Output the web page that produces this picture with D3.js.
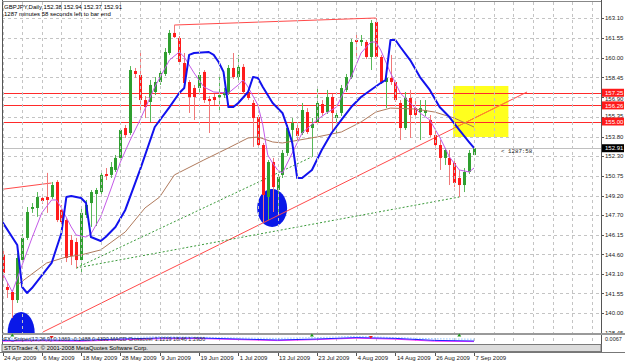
<!DOCTYPE html>
<html>
<head>
<meta charset="utf-8">
<script src="https://cdn.jsdelivr.net/npm/d3@7"></script>
<style>
  body { margin: 0; background: #fff; }
  svg { display: block; font-family: "Liberation Sans", Arial, sans-serif; }
</style>
</head>
<body>
<div id="chart"></div>
<script>
// GBPJPY daily candles, 24 Apr 2009 .. 7 Sep 2009 (bar index 0..96)
const opens  = [144.56,142.05,141.66,141.03,144.16,145.89,148.16,148.23,149.01,149.09,149.09,150.27,148.08,147.29,145.73,145.57,144.16,147.68,148.62,149.33,149.48,150.89,150.82,151.21,152.15,154.49,154.10,158.95,158.64,156.68,156.53,157.31,158.09,158.72,160.36,161.93,161.53,159.58,158.09,157.62,157.62,158.88,156.76,156.92,156.92,157.07,157.23,159.19,158.48,159.27,157.31,156.45,155.35,153.16,149.09,151.83,149.64,150.82,152.54,154.34,154.49,154.10,155.74,154.49,154.96,156.37,155.74,156.92,155.27,155.67,157.47,158.48,161.38,161.22,161.22,160.05,162.79,160.05,158.09,158.41,158.09,156.45,154.49,156.84,156.05,155.74,155.67,155.12,153.94,153.16,152.15,152.15,151.75,150.58,150.03,151.05,152.38];
const highs  = [144.95,142.37,141.82,144.72,146.20,148.31,148.62,149.48,149.25,150.98,150.27,150.42,148.47,147.45,146.12,145.89,148.23,148.86,149.64,149.80,151.05,151.36,151.83,152.38,154.49,154.73,159.34,159.19,160.44,156.99,158.25,158.48,159.03,160.75,162.16,162.55,161.69,160.36,158.25,157.86,158.88,159.03,156.99,157.15,158.48,157.62,159.42,160.36,160.21,159.50,157.54,156.68,155.51,153.32,151.99,152.15,150.89,152.77,154.73,155.27,154.96,156.45,156.05,155.27,157.62,156.68,157.47,157.15,155.90,157.86,158.72,161.46,162.00,161.77,161.38,162.94,163.10,160.21,158.56,160.21,158.25,156.68,157.31,157.47,156.68,156.68,156.68,155.51,154.49,153.55,152.93,152.77,151.99,151.21,151.36,152.77,152.94];
const lows   = [142.60,141.19,139.63,140.80,144.00,145.73,147.85,147.54,148.55,147.85,148.94,147.13,146.90,144.00,143.77,143.54,143.00,147.45,146.75,146.82,149.25,150.42,150.58,151.05,151.99,153.71,153.94,158.41,155.90,155.27,154.96,157.07,157.86,158.56,160.21,161.53,159.50,157.86,155.67,155.12,157.31,156.45,154.10,156.29,155.90,156.84,157.07,158.33,158.25,157.15,156.68,153.01,152.93,147.13,147.29,147.92,147.92,150.58,152.31,153.32,153.55,153.94,154.02,152.23,154.81,155.43,155.59,154.18,154.10,155.43,157.31,158.33,160.05,160.91,159.89,159.03,159.89,157.94,156.05,157.86,156.53,153.55,154.34,153.71,155.27,153.55,155.43,153.79,152.77,151.21,151.60,150.03,149.87,149.09,149.48,150.89,152.37];
const closes = [143.15,141.82,141.03,144.32,145.89,147.92,148.31,149.09,148.78,148.86,150.03,147.29,147.13,144.32,144.48,144.16,147.85,148.47,149.48,149.64,150.82,150.74,151.44,152.15,154.34,153.94,159.03,158.72,156.68,156.13,157.86,158.09,158.80,160.44,161.93,161.61,159.66,158.01,156.92,156.92,158.64,156.68,156.60,156.68,157.07,157.31,159.19,158.48,159.27,157.31,156.84,155.27,153.16,149.25,151.83,149.87,150.66,152.54,154.49,154.88,153.87,155.90,154.18,154.81,156.45,155.67,156.92,155.67,155.51,157.62,158.48,161.22,161.22,161.38,160.05,162.71,160.05,158.09,158.41,158.09,156.68,154.49,156.84,155.51,155.51,156.05,155.90,153.94,153.16,152.15,152.77,151.60,150.19,150.03,151.05,152.54,152.91];

// indicator lines: [bar, price]
const fastMa = [[0,143.15],[2,141.66],[4,143.77],[6,145.89],[8,147.85],[10,148.86],[11,148.86],[12,148.23],[14,146.75],[15,146.12],[17,145.96],[18,146.20],[20,147.54],[22,149.64],[24,151.83],[26,153.55],[28,155.12],[31,157.70],[34,159.81],[36,160.44],[37,160.05],[39,158.80],[41,157.70],[43,157.31],[46,157.23],[48,157.86],[49,158.25],[50,157.70],[52,156.29],[53,154.73],[54,152.38],[55,151.75],[56,151.21],[57,150.97],[59,152.54],[61,154.10],[64,155.12],[66,155.67],[68,156.13],[71,158.48],[73,160.36],[75,161.22],[76,161.22],[77,160.60],[79,158.80],[81,157.23],[83,156.45],[85,155.67],[87,155.12],[89,153.79],[91,152.23],[93,151.21],[95,151.05],[96,151.36]];
const slowMa = [[3,142.21],[9,143.93],[13,144.40],[16,144.56],[20,144.95],[25,146.36],[29,148.23],[32,149.09],[35,150.82],[41,151.99],[46,152.93],[50,153.71],[52,153.79],[55,153.40],[57,153.32],[64,153.79],[69,154.18],[73,154.96],[76,155.74],[79,156.05],[84,155.98],[88,155.74],[92,155.27],[96,154.57]];
const blueLine = [[0,147.13],[3,145.34],[4,142.05],[5,141.58],[6,141.97],[10,143.93],[12,146.28],[13,149.09],[14,149.17],[16,149.01],[17,148.62],[18,145.96],[20,145.65],[21,145.96],[23,146.75],[25,148.08],[28,151.21],[31,154.57],[34,156.13],[36,157.23],[37,157.62],[38,160.21],[39,160.36],[42,160.44],[43,160.21],[44,159.66],[45,158.88],[46,156.13],[47,156.13],[48,156.45],[50,157.31],[51,158.48],[52,158.41],[53,157.70],[55,156.45],[57,155.67],[58,154.57],[59,153.32],[60,150.58],[61,150.58],[63,151.21],[65,152.77],[67,154.10],[69,155.12],[71,156.13],[73,156.92],[75,157.47],[77,158.01],[78,158.25],[79,161.38],[80,161.38],[81,160.83],[83,159.81],[85,158.48],[87,157.47],[89,156.13],[91,155.35],[93,154.34],[95,153.39],[96,152.93]];

// drawn objects
const levelLines = [157.25, 156.26, 155.00];
const bidPrice = 152.91;
const redTrends = [
  [[8.25, 138.53], [106.8, 157.31]],
  [[35, 162.55], [76, 163.10]],
  [[-1, 149.65], [10, 150.19]]
];
const greenTrends = [
  [[15, 143.54], [63, 152.23]],
  [[15, 143.54], [93, 149.09]]
];
const yellowBox = [91.75, 103, 157.78, 153.79];   // bar from, bar to, price top, price bottom
const ellipses = [[54.9, 148.23, 3.05, 1.49], [3.8, 138.46, 2.75, 1.64]]; // bar, price, half width (bars), half height (price)

// axes
const priceTicks = [163.10, 161.55, 160.00, 158.45, 156.90, 155.35, 153.80, 152.30, 150.75, 149.20, 147.70, 146.15, 144.60, 143.10, 141.55, 140.00, 138.45];
const dateBars = [0, 8, 16, 24, 32, 40, 48, 56, 64, 72, 80, 88, 96];
const dateLabels = ["24 Apr 2009", "6 May 2009", "18 May 2009", "28 May 2009", "9 Jun 2009", "19 Jun 2009", "1 Jul 2009", "13 Jul 2009", "23 Jul 2009", "4 Aug 2009", "14 Aug 2009", "26 Aug 2009", "7 Sep 2009"];

// lower indicator window
const subBars  = [0, 8, 16, 24, 32, 40, 48, 56, 64, 72, 80, 88, 96];
const subMain  = [-0.1, 0.0, -0.1, 0.25, 0.5, 0.5, 0.25, 0.0, 0.25, 0.6, 0.4, -0.1, -0.25];
const subSig   = [-0.3, -0.2, -0.3, 0.05, 0.3, 0.35, 0.1, -0.15, 0.1, 0.45, 0.2, -0.3, -0.4];
const subDots  = [0.4, 0.5, 0.3, 0.6, 0.8, 0.7, 0.5, 0.4, 0.6, 0.9, 0.6, 0.3, 0.2];
const buyMarks = [2, 63, 93];
const sellMarks = [10, 75];

const W = 625, H = 363;
const pL = 2, pR = 601, pT = 2, pB = 333;

const x = d3.scaleLinear().domain([0, 96]).range([2.5, 474]);
const y = d3.scaleLinear().domain([138.45, 163.10]).range([333, 18]);
const ySub = d3.scaleLinear().domain([-1, 1]).range([344, 336]);

const svg = d3.select("#chart").append("svg")
    .attr("width", W)
    .attr("height", H)
    .attr("viewBox", [0, 0, W, H]);

const defs = svg.append("defs");
defs.append("clipPath").attr("id", "clip")
  .append("rect").attr("x", pL).attr("y", pT).attr("width", pR - pL).attr("height", pB - pT);
defs.append("clipPath").attr("id", "boxClip")
  .append("rect")
    .attr("x", x(yellowBox[0])).attr("y", y(yellowBox[2]))
    .attr("width", x(yellowBox[1]) - x(yellowBox[0]))
    .attr("height", y(yellowBox[3]) - y(yellowBox[2]));

svg.append("rect").attr("width", W).attr("height", H).attr("fill", "#fff");

const plot = svg.append("g").attr("clip-path", "url(#clip)");

// grid
plot.append("g").selectAll("line").data(priceTicks).join("line")
    .attr("x1", pL).attr("x2", pR)
    .attr("y1", d => Math.round(y(d)) + 0.5).attr("y2", d => Math.round(y(d)) + 0.5)
    .attr("stroke", "#c4c4c4").attr("stroke-dasharray", "3,3");
const gridBars = d3.range(0, 121, 4);
svg.append("g").selectAll("line").data(gridBars).join("line")
    .attr("x1", d => Math.round(x(d)) + 0.5).attr("x2", d => Math.round(x(d)) + 0.5)
    .attr("y1", pT).attr("y2", 351)
    .attr("stroke", "#c4c4c4").attr("stroke-dasharray", "3,3");

// yellow box (background object)
plot.append("rect")
    .attr("x", x(yellowBox[0])).attr("y", y(yellowBox[2]))
    .attr("width", x(yellowBox[1]) - x(yellowBox[0]))
    .attr("height", y(yellowBox[3]) - y(yellowBox[2]))
    .attr("fill", "#ffff1e");

// ellipses
plot.append("g").selectAll("ellipse").data(ellipses).join("ellipse")
    .attr("cx", d => x(d[0])).attr("cy", d => y(d[1]))
    .attr("rx", d => x(d[0] + d[2]) - x(d[0]))
    .attr("ry", d => y(d[1] - d[3]) - y(d[1]))
    .attr("fill", "#0a18e8");

// bid line
plot.append("line")
    .attr("x1", pL).attr("x2", pR)
    .attr("y1", Math.round(y(bidPrice)) + 0.5).attr("y2", Math.round(y(bidPrice)) + 0.5)
    .attr("stroke", "#c0c0c0");

// horizontal levels
plot.append("g").selectAll("line").data(levelLines).join("line")
    .attr("x1", pL).attr("x2", pR)
    .attr("y1", d => Math.round(y(d)) + 0.5).attr("y2", d => Math.round(y(d)) + 0.5)
    .attr("stroke", "#ff2a2a");

// trend lines
const seg = d3.line().x(d => x(d[0])).y(d => y(d[1]));
plot.append("g").selectAll("path").data(redTrends).join("path")
    .attr("d", seg).attr("fill", "none").attr("stroke", "#ff4a4a");
plot.append("path").attr("clip-path", "url(#boxClip)")
    .attr("d", seg(redTrends[0])).attr("fill", "none").attr("stroke", "#ff9020");
plot.append("g").selectAll("path").data(greenTrends).join("path")
    .attr("d", seg).attr("fill", "none").attr("stroke", "#3a9a3a").attr("stroke-dasharray", "2,2");

// candles
const bars = d3.range(opens.length);
const up = i => closes[i] >= opens[i];
const cx = i => Math.round(x(i));
plot.append("g").selectAll("line").data(bars).join("line")
    .attr("x1", i => cx(i) + 0.5).attr("x2", i => cx(i) + 0.5)
    .attr("y1", i => y(highs[i])).attr("y2", i => y(lows[i]))
    .attr("stroke", i => up(i) ? "#58b858" : "#f07878");
plot.append("g").selectAll("rect").data(bars).join("rect")
    .attr("x", i => cx(i) - 1).attr("width", 3)
    .attr("y", i => y(Math.max(opens[i], closes[i])))
    .attr("height", i => Math.max(1, Math.abs(y(opens[i]) - y(closes[i]))))
    .attr("fill", i => up(i) ? "#2f9f2f" : "#ff1c1c");

// moving averages and the blue indicator
plot.append("path").attr("d", seg(slowMa)).attr("fill", "none").attr("stroke", "#b07a5c");
plot.append("path").attr("d", seg(fastMa)).attr("fill", "none").attr("stroke", "#c45ae8");
plot.append("path").attr("d", seg(blueLine)).attr("fill", "none").attr("stroke", "#1212ee")
    .attr("stroke-width", 2).attr("stroke-linejoin", "round");

// countdown label
svg.append("text").attr("x", 501).attr("y", y(bidPrice) + 5)
    .attr("font-family", "Liberation Mono, monospace").attr("font-size", 5.8).attr("fill", "#222")
    .text("<  1287:58");

// title
svg.append("text").attr("x", 4).attr("y", 9).attr("font-size", 6).attr("fill", "#000")
    .text("GBPJPY,Daily  152.38 152.94 152.37 152.91");
svg.append("text").attr("x", 4).attr("y", 16).attr("font-size", 6).attr("fill", "#000")
    .text("1287 minutes 58 seconds left to bar end");

// frame
svg.append("line").attr("x1", pL + 0.5).attr("x2", pL + 0.5).attr("y1", 0).attr("y2", 352).attr("stroke", "#555");
svg.append("line").attr("x1", pR + 0.5).attr("x2", pR + 0.5).attr("y1", 0).attr("y2", 352).attr("stroke", "#555");
svg.append("line").attr("x1", pL).attr("x2", pR).attr("y1", 1.5).attr("y2", 1.5).attr("stroke", "#888");

// right price axis; a grid label that sits under a price tag is pushed just clear of it
const tagYs = levelLines.concat([bidPrice]).map(y);
const labelY = p => {
  let v = y(p);
  tagYs.forEach(t => {
    if (Math.abs(v - t) < 6) v = v > t ? t + 6.5 : t - 6.2;
  });
  return v;
};
const axis = svg.append("g");
axis.selectAll("line").data(priceTicks).join("line")
    .attr("x1", pR).attr("x2", pR + 3)
    .attr("y1", d => Math.round(y(d)) + 0.5).attr("y2", d => Math.round(y(d)) + 0.5)
    .attr("stroke", "#555");
axis.selectAll("text").data(priceTicks).join("text")
    .attr("x", 605).attr("y", d => labelY(d) + 2.2)
    .attr("font-size", 6).attr("fill", "#222")
    .text(d => d.toFixed(2));

const tags = svg.append("g");
tags.selectAll("rect").data(levelLines).join("rect")
    .attr("x", pR + 1).attr("y", d => y(d) - 4).attr("width", 22).attr("height", 8)
    .attr("fill", "#ff1a1a");
tags.selectAll("text").data(levelLines).join("text")
    .attr("x", 605).attr("y", d => y(d) + 2.2).attr("font-size", 6).attr("fill", "#fff")
    .text(d => d.toFixed(2));
tags.append("rect").attr("x", pR + 1).attr("y", y(bidPrice) - 4).attr("width", 22).attr("height", 8).attr("fill", "#000");
tags.append("text").attr("x", 605).attr("y", y(bidPrice) + 2.2).attr("font-size", 6).attr("fill", "#fff")
    .text(bidPrice.toFixed(2));

// lower window
svg.append("rect").attr("x", pL).attr("y", 333).attr("width", W - pL).attr("height", 2).attr("fill", "#9a9a9a");
const sub = svg.append("g");
const subLine = d3.line().x((d, i) => x(subBars[i])).y(d => ySub(d));
sub.append("path").attr("d", subLine(subDots)).attr("fill", "none").attr("stroke", "#5aaaff").attr("stroke-dasharray", "1,2");
sub.append("path").attr("d", subLine(subSig)).attr("fill", "none").attr("stroke", "#ff30ff");
sub.append("path").attr("d", subLine(subMain)).attr("fill", "none").attr("stroke", "#2020ff");
sub.selectAll(".buy").data(buyMarks).join("path").attr("class", "buy")
    .attr("d", b => `M${x(b) - 2},${ySub(0.9)}L${x(b)},${ySub(1.6)}L${x(b) + 2},${ySub(0.9)}Z`)
    .attr("fill", "#1a9a1a");
sub.selectAll(".sell").data(sellMarks).join("path").attr("class", "sell")
    .attr("d", b => `M${x(b) - 2},${ySub(1.0)}L${x(b)},${ySub(0.3)}L${x(b) + 2},${ySub(1.0)}Z`)
    .attr("fill", "#ee1a1a");
sub.append("text").attr("x", 4).attr("y", 341).attr("font-size", 5.5).attr("fill", "#333")
    .text("FX_Sniper(12,26,9)  0.1369  -0.1488  0.4390  MACD Crossover  1.1219  18.46  1.2930");
svg.append("text").attr("x", 605).attr("y", 340.5).attr("font-size", 5.5).attr("fill", "#222").text("0.0067");

// copyright band
svg.append("rect").attr("x", pL).attr("y", 344.5).attr("width", pR - pL).attr("height", 7)
    .attr("fill", "#dcdcdc").attr("stroke", "#7a7a7a");
svg.append("text").attr("x", 4).attr("y", 350).attr("font-size", 5.8).attr("fill", "#000")
    .text("STGTrader 4, © 2001-2008 MetaQuotes Software Corp.");
svg.append("line").attr("x1", 0).attr("x2", W).attr("y1", 352.5).attr("y2", 352.5).attr("stroke", "#777");

// date axis
const dates = svg.append("g");
dates.selectAll("line").data(dateBars).join("line")
    .attr("x1", d => cx(d) + 0.5).attr("x2", d => cx(d) + 0.5)
    .attr("y1", 353).attr("y2", 356).attr("stroke", "#555");
dates.selectAll("text").data(dateBars).join("text")
    .attr("x", d => x(d) + 1.5).attr("y", 360)
    .attr("font-size", 6).attr("fill", "#222")
    .text((d, i) => dateLabels[i]);
</script>
</body>
</html>
